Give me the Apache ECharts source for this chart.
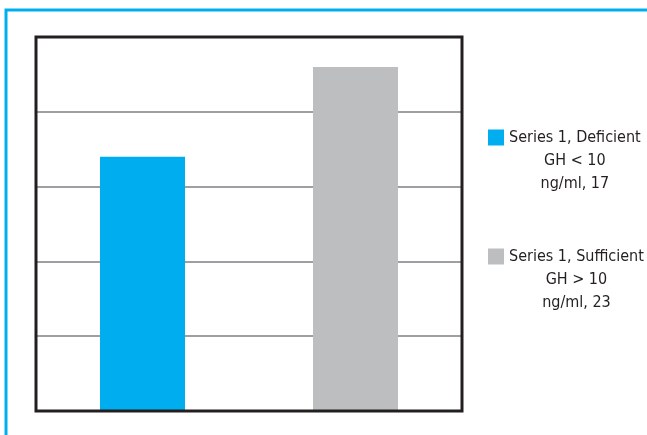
<!DOCTYPE html>
<html>
<head>
<meta charset="utf-8">
<script src="https://cdn.jsdelivr.net/npm/echarts@6/dist/echarts.min.js"></script>
<style>
  html, body { margin: 0; padding: 0; background: #fff; }
  #main { width: 647px; height: 435px; }
</style>
</head>
<body>
<div id="main"></div>
<script>
var dom = document.getElementById('main');
var myChart = echarts.init(dom);

// 数据
var seriesNames = ['Series 1, Deficient GH < 10 ng/ml, 17', 'Series 1, Sufficient GH > 10 ng/ml, 23'];
var legendLines = [
    ['Series 1, Deficient', 'GH < 10', 'ng/ml, 17'],
    ['Series 1, Sufficient', 'GH > 10', 'ng/ml, 23']
];
var categories = ['Deficient', 'Sufficient'];
var values = [17, 23];
var colors = ['#00aeef', '#bcbec0'];

var fontFam = '"Liberation Sans Narrow", "DejaVu Sans Condensed", Arial, sans-serif';

var series = [];
seriesNames.forEach(function (name, i) {
    var data = categories.map(function (c, j) { return j === i ? values[i] : '-'; });
    series.push({
        name: name,
        type: 'bar',
        barWidth: 85,
        barGap: '-100%',
        itemStyle: { color: colors[i] },
        data: data
    });
});

var option = {
    animation: false,
    graphic: [{
        type: 'rect',
        shape: { x: 6, y: 10, width: 700, height: 500 },
        style: { fill: 'none', stroke: '#00aeef', lineWidth: 3 },
        z: 100
    }],
    grid: {
        left: 36, top: 37, width: 426, height: 374,
        show: true,
        borderColor: '#231f20',
        borderWidth: 3,
        backgroundColor: 'transparent',
        z: 10
    },
    legend: {
        orient: 'vertical',
        left: 483,
        top: 75,
        itemWidth: 16,
        itemHeight: 16,
        itemGap: 4,
        icon: 'rect',
        data: seriesNames,
        formatter: function (name) {
            var idx = seriesNames.indexOf(name);
            return legendLines[idx].map(function (s) { return '{c|' + s + '}'; }).join('\n');
        },
        textStyle: {
            fontFamily: fontFam,
            fontSize: 16,
            lineHeight: 23,
            color: '#231f20',
            padding: [46, 0, 0, 0],
            rich: {
                c: {
                    fontFamily: fontFam,
                    fontSize: 16,
                    lineHeight: 23,
                    color: '#231f20',
                    align: 'center'
                }
            }
        }
    },
    xAxis: {
        type: 'category',
        data: categories,
        axisLine: { show: false },
        axisTick: { show: false },
        axisLabel: { show: false }
    },
    yAxis: {
        type: 'value',
        min: 0,
        max: 25,
        interval: 5,
        axisLine: { show: false },
        axisTick: { show: false },
        axisLabel: { show: false },
        splitLine: { lineStyle: { color: '#9d9fa2', width: 2 } }
    },
    series: series
};
myChart.setOption(option);
</script>
</body>
</html>
